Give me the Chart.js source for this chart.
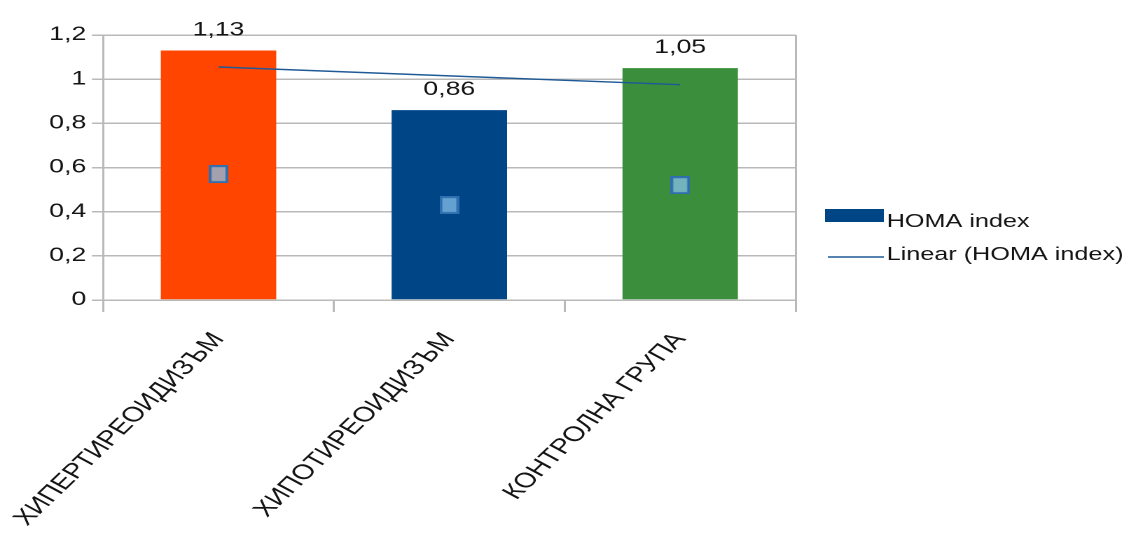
<!DOCTYPE html>
<html lang="bg">
<head>
<meta charset="UTF-8">
<title>HOMA index</title>
<script src="https://cdn.jsdelivr.net/npm/chart.js"></script>
<style>
  html, body { margin: 0; padding: 0; background: #fff; overflow: hidden; }
  /* chart is laid out narrow and widened to the window */
  #homaChart { transform: scaleX(1.4007); transform-origin: 0 0; }
</style>
</head>
<body>
<canvas id="homaChart" width="806" height="539"></canvas>
<script>
  // groups and HOMA values
  var groups = ['ХИПЕРТИРЕОИДИЗЪМ', 'ХИПОТИРЕОИДИЗЪМ', 'КОНТРОЛНА ГРУПА'];
  var homaValues = [1.13, 0.86, 1.05];
  var barColors = ['#ff4500', '#004586', '#3a8e3c'];
  // linear trend of the HOMA values
  var trendValues = [1.055, 1.015, 0.975];
  // square symbols inside the bars
  var symbolValues = [0.57, 0.43, 0.52];
  var yTicks = [0, 0.2, 0.4, 0.6, 0.8, 1, 1.2];

  var gridGray = '#b9b9b9';
  var textColor = '#141414';
  var trendColor = '#1f5a96';
  var fontFamily = '"Liberation Sans", Arial, sans-serif';

  function comma(v) {
    return String(v).replace('.', ',');
  }

  // small square used as point style
  function makeSymbol() {
    var c = document.createElement('canvas');
    c.width = 14;
    c.height = 18;
    var g = c.getContext('2d');
    g.fillStyle = 'rgba(134, 191, 232, 0.75)';
    g.fillRect(0, 0, 14, 18);
    g.strokeStyle = '#2f6fb0';
    g.lineWidth = 2;
    g.strokeRect(1, 1, 12, 16);
    return c;
  }

  // value labels above the bars
  var valueLabels = {
    id: 'valueLabels',
    afterDatasetsDraw: function(chart) {
      var ctx = chart.ctx;
      var meta = chart.getDatasetMeta(0);
      ctx.save();
      ctx.font = '19px ' + fontFamily;
      ctx.fillStyle = textColor;
      ctx.textAlign = 'center';
      ctx.textBaseline = 'alphabetic';
      meta.data.forEach(function(bar, i) {
        ctx.fillText(comma(homaValues[i]), bar.x, bar.y - 15);
      });
      ctx.restore();
    }
  };

  // legend on the right side
  var sideLegend = {
    id: 'sideLegend',
    afterDraw: function(chart) {
      var ctx = chart.ctx;
      ctx.save();
      ctx.fillStyle = barColors[1];
      ctx.fillRect(589, 209, 42, 13);
      ctx.strokeStyle = trendColor;
      ctx.lineWidth = 1.5;
      ctx.beginPath();
      ctx.moveTo(591, 257);
      ctx.lineTo(631, 257);
      ctx.stroke();
      ctx.font = '18px ' + fontFamily;
      ctx.fillStyle = textColor;
      ctx.textBaseline = 'alphabetic';
      ctx.fillText('HOMA index', 633, 227);
      ctx.fillText('Linear (HOMA index)', 633, 260);
      ctx.restore();
    }
  };

  Chart.defaults.font.family = fontFamily;
  Chart.defaults.color = textColor;

  var homaChart = new Chart('homaChart', {
    type: 'bar',
    data: {
      labels: groups,
      datasets: [{
        label: 'HOMA index',
        data: homaValues,
        backgroundColor: barColors,
        borderWidth: 0,
        categoryPercentage: 1,
        barPercentage: 0.5,
        order: 3
      }, {
        type: 'line',
        label: 'Linear (HOMA index)',
        data: trendValues,
        borderColor: trendColor,
        borderWidth: 1.5,
        pointRadius: 0,
        fill: false,
        order: 2
      }, {
        type: 'line',
        label: 'symbols',
        data: symbolValues,
        showLine: false,
        pointStyle: makeSymbol(),
        pointRadius: 9,
        order: 1
      }]
    },
    options: {
      responsive: false,
      animation: false,
      devicePixelRatio: 2,
      layout: { padding: { left: 0, top: 35, right: 238, bottom: 0 } },
      plugins: {
        legend: { display: false },
        tooltip: { enabled: false }
      },
      scales: {
        x: {
          offset: true,
          grid: {
            offset: true,
            drawOnChartArea: true,
            color: function(c) { return c.type === 'tick' ? 'rgba(0,0,0,0)' : gridGray; },
            tickColor: gridGray,
            tickLength: 12,
            lineWidth: 1.5
          },
          border: { display: true, color: gridGray, width: 1.5 },
          ticks: {
            minRotation: 53,
            maxRotation: 53,
            autoSkip: false,
            padding: 16,
            color: textColor,
            font: { size: 21 }
          },
          afterFit: function(scale) {
            // rotated labels may run past the left edge
            scale.height = 239;
            scale.paddingLeft = 0;
            scale.paddingRight = 0;
          }
        },
        y: {
          min: 0,
          max: 1.2,
          grid: {
            color: gridGray,
            tickColor: gridGray,
            tickLength: 8,
            lineWidth: 1.5
          },
          border: { display: true, color: gridGray, width: 1.5 },
          ticks: {
            padding: 4,
            color: textColor,
            font: { size: 19 },
            callback: function(v) { return comma(v); }
          },
          afterBuildTicks: function(scale) {
            scale.ticks = yTicks.map(function(v) { return { value: v }; });
          },
          afterFit: function(scale) { scale.width = 73.6; }
        }
      }
    },
    plugins: [valueLabels, sideLegend]
  });
</script>
</body>
</html>
